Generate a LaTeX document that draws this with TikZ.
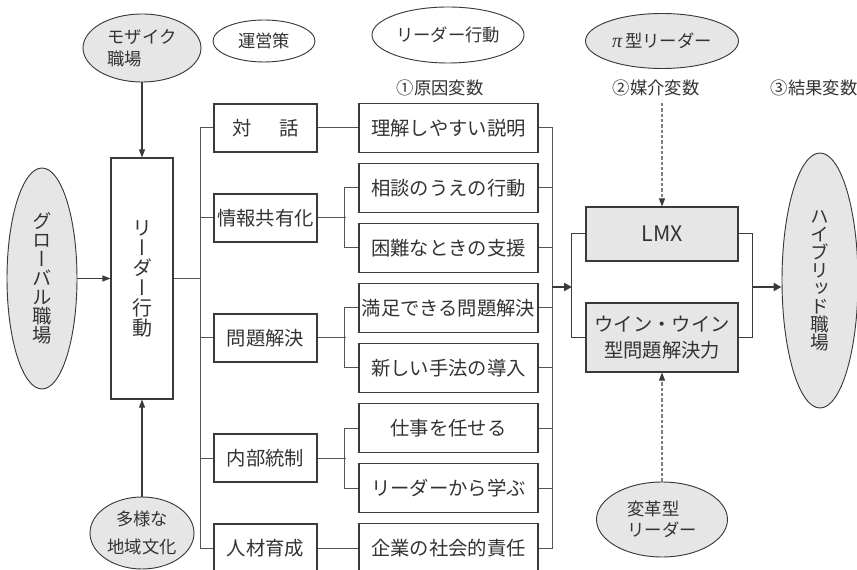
\documentclass[tikz,border=0pt]{standalone}
\usepackage{fontspec}
\setmainfont{Noto Sans CJK JP}
\newfontfamily\vjp[RawFeature=+vert]{Noto Sans CJK JP}
\newfontfamily\serifgr{Liberation Serif}
\usetikzlibrary{arrows.meta,shapes.geometric}
\definecolor{fillg}{HTML}{E6E6E6}
\definecolor{ink}{HTML}{333333}
\definecolor{linec}{HTML}{3A3A3A}
\definecolor{treec}{HTML}{555555}
\definecolor{dashc}{HTML}{808080}
\begin{document}
\begin{tikzpicture}[x=0.75pt,y=-0.75pt,
  every node/.style={text=ink},
  box/.style={draw=linec, line width=0.8pt, inner sep=0pt, font=\fontsize{14.5}{17}\selectfont},
  boxA/.style={box, minimum width=77.25pt, minimum height=36pt},
  boxB/.style={box, minimum width=134.25pt, minimum height=36.75pt},
  boxC/.style={box, fill=fillg, minimum width=114pt},
  ell/.style={ellipse, draw=linec, line width=0.7pt, inner sep=0pt, font=\fontsize{13}{16.5}\selectfont},
  gell/.style={ell, fill=fillg},
  hdr/.style={font=\fontsize{13}{16}\selectfont, inner sep=0pt},
  tree/.style={draw=treec, line width=0.75pt},
  arr/.style={draw=linec, line width=0.8pt, -{Triangle[length=6pt,width=4.5pt]}},
  barr/.style={draw=linec, line width=1.6pt, -{Triangle[length=6pt,width=6pt]}},
  darr/.style={draw=dashc, line width=0.8pt, dash pattern=on 2.5pt off 1.5pt, -{Triangle[length=6pt,width=4.5pt,color=linec]}}
]
\useasboundingbox (0,0) rectangle (857,570);

% top ellipses
\node[gell, minimum width=88.5pt, minimum height=51pt, align=left] (mosaic) at (142,48) {モザイク\\職場};
\node[ell, minimum width=76.5pt, minimum height=31.5pt] (unei) at (264,41) {運営策};
\node[ell, minimum width=114pt, minimum height=42pt] (rbeh) at (448,35) {リーダー行動};
\node[gell, minimum width=114.75pt, minimum height=41.25pt] (pi) at (662,41) {{\serifgr\itshape\fontsize{15}{15}\selectfont π}\,型リーダー};

% headers
\node[hdr] (h1) at (440,88) {①原因変数};
\node[hdr] (h2) at (656,88) {②媒介変数};
\node[hdr] (h3) at (814,88) {③結果変数};

% left side
\node[gell, minimum width=52.5pt, minimum height=165.75pt, font=\vjp\fontsize{14.5}{14.25}\selectfont, align=center] (glob) at (42,278.5) {グ\\ロ\\ー\\バ\\ル\\職\\場};
\node[box, minimum width=46.5pt, minimum height=180.75pt, font=\vjp\fontsize{15}{15}\selectfont, align=center] (lead) at (142,278.5) {リ\\ー\\ダ\\ー\\行\\動};
\node[gell, minimum width=78pt, minimum height=54pt, align=center, font=\fontsize{13}{21}\selectfont] (tayo) at (142,533) {多様な\\地域文化};

% level 1
\node[boxA] (c1) at (265.5,128) {対\hspace{1.4em}話};
\node[boxA] (c2) at (265.5,218) {情報共有化};
\node[boxA] (c3) at (265.5,338) {問題解決};
\node[boxA] (c4) at (265.5,458) {内部統制};
\node[boxA] (c5) at (265.5,548) {人材育成};

% level 2
\node[boxB] (d1) at (448.5,128) {理解しやすい説明};
\node[boxB] (d2) at (448.5,188) {相談のうえの行動};
\node[boxB] (d3) at (448.5,248) {困難なときの支援};
\node[boxB] (d4) at (448.5,308) {満足できる問題解決};
\node[boxB] (d5) at (448.5,368) {新しい手法の導入};
\node[boxB] (d6) at (448.5,428) {仕事を任せる};
\node[boxB] (d7) at (448.5,488) {リーダーから学ぶ};
\node[boxB] (d8) at (448.5,548) {企業の社会的責任};

% mediators
\node[boxC, minimum height=40.5pt, font=\fontsize{16}{18}\selectfont] (lmx) at (662,234) {LMX};
\node[boxC, minimum height=51.75pt, align=center, font=\fontsize{14.5}{20}\selectfont] (win) at (662,337.5) {ウイン・ウイン\\型問題解決力};

% right ellipse
\node[gell, minimum width=57pt, minimum height=191.25pt, font=\vjp\fontsize{14}{13.5}\selectfont, align=center] (hyb) at (820,280.5) {ハ\\イ\\ブ\\リ\\ッ\\ド\\職\\場};

% bottom right ellipse
\node[gell, minimum width=98.25pt, minimum height=56.25pt, align=left, font=\fontsize{13}{16}\selectfont] (henk) at (662,519.5) {変革型\\リーダー};

% coordinates
\coordinate (busL) at (200,0);
\coordinate (rb) at (552,287);
\coordinate (brL) at (572,287);
\coordinate (brR) at (752,287);
\coordinate (dtop) at (662,103);

% arrows into leader box
\draw[arr] (mosaic.south) -- (lead.north);
\draw[arr] (tayo.north) -- (lead.south);
\draw[arr] (glob.east |- lead.west) -- (lead.west);

% left bus
\draw[tree] (lead.east) -- (lead.east -| busL);
\draw[tree] (c1.west) -- (c1.west -| busL) -- (c5.west -| busL) -- (c5.west);
\draw[tree] (c2.west) -- (c2.west -| busL);
\draw[tree] (c3.west) -- (c3.west -| busL);
\draw[tree] (c4.west) -- (c4.west -| busL);

% level1 -> level2
\draw[tree] (c1.east) -- (d1.west);
\draw[tree] (c5.east) -- (d8.west);
\draw[tree] (c2.east) -- ++(28,0);
\draw[tree] (d2.west) -- ++(-14,0) |- (d3.west);
\draw[tree] (c3.east) -- ++(28,0);
\draw[tree] (d4.west) -- ++(-14,0) |- (d5.west);
\draw[tree] (c4.east) -- ++(28,0);
\draw[tree] (d6.west) -- ++(-14,0) |- (d7.west);

% right bus
\draw[tree] (d1.east) -- ++(14,0) |- (d8.east);
\foreach \k in {2,...,7} \draw[tree] (d\k.east) -- ++(14,0);
\draw[barr] (rb) -- (brL);

% brackets around mediators
\draw[tree, draw=linec] (lmx.west) -- ++(-14,0) |- (win.west);
\draw[tree, draw=linec] (lmx.east) -- ++(14,0) |- (win.east);
\draw[barr] (brR) -- (brR -| hyb.west);

% dashed moderators
\draw[darr] (dtop) -- (lmx.north);
\draw[darr] (henk.north) -- (win.south);
\end{tikzpicture}
\end{document}
